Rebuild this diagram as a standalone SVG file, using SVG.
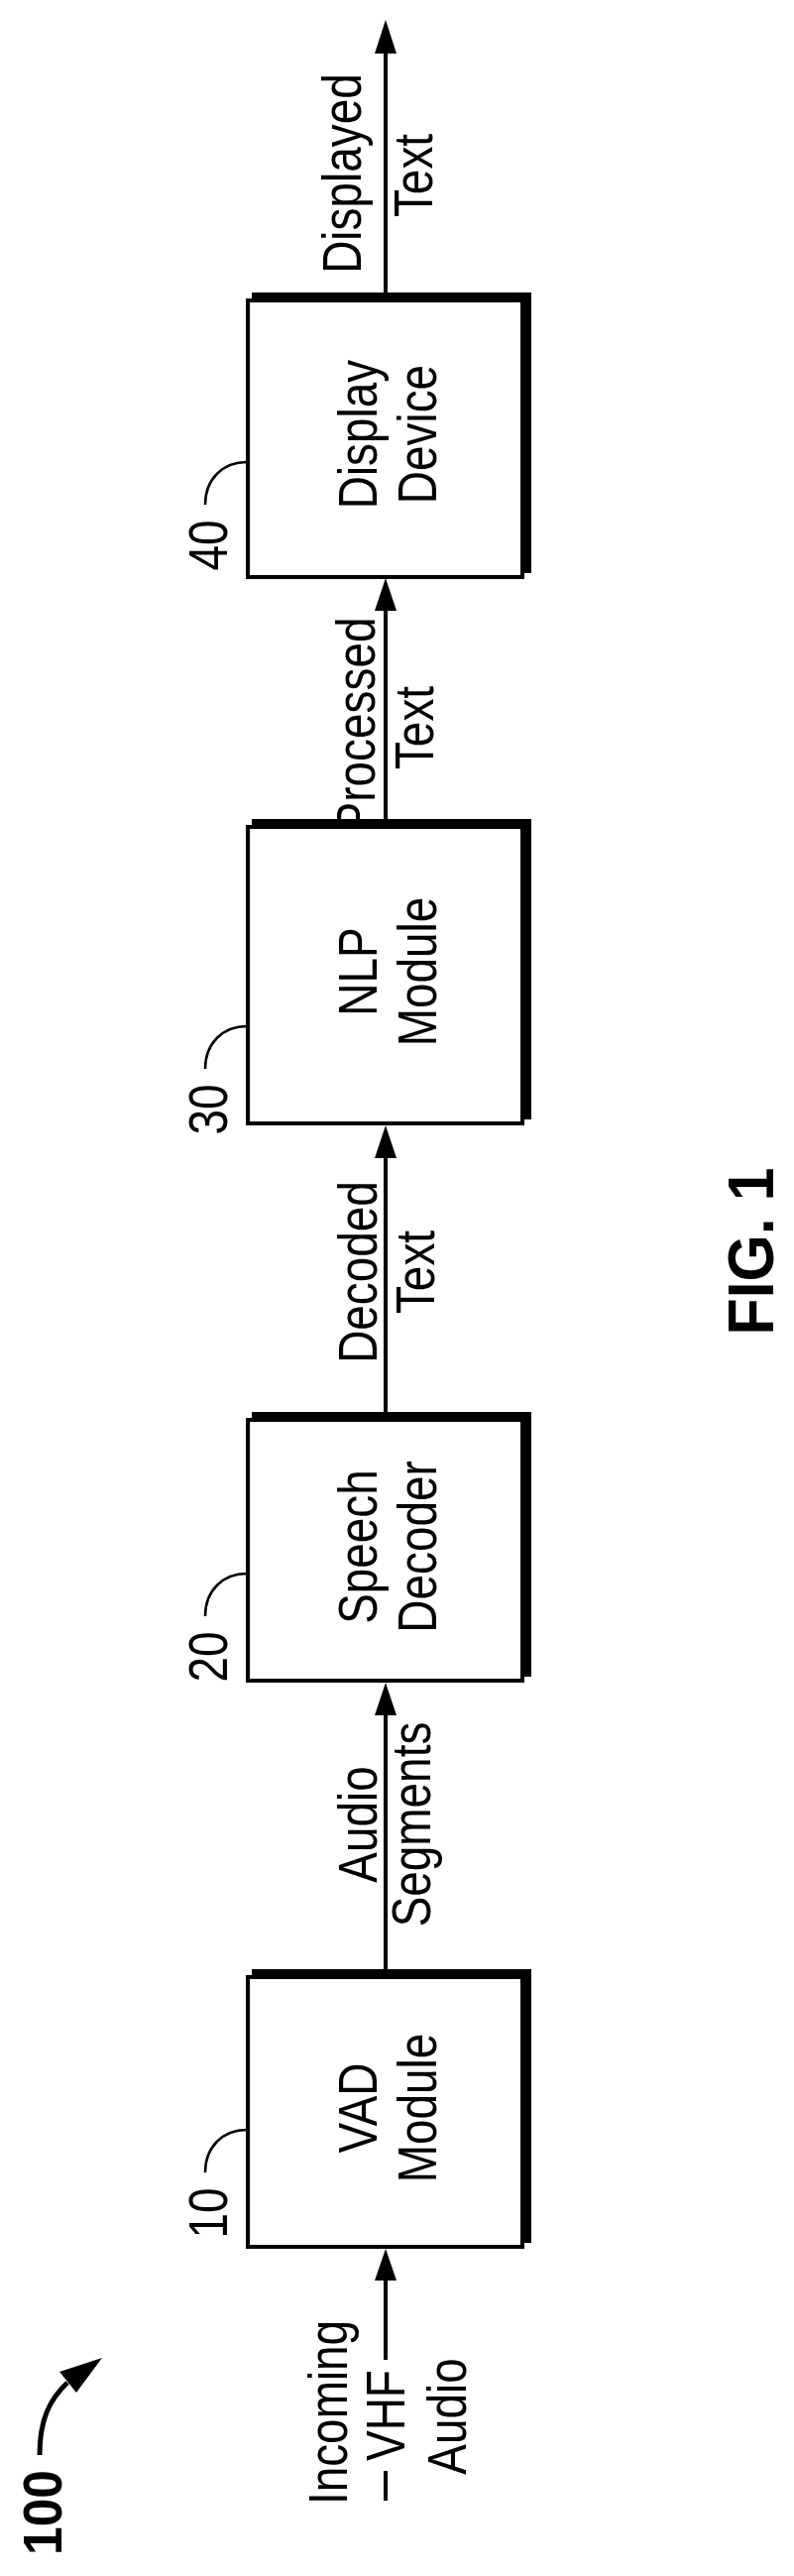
<svg xmlns="http://www.w3.org/2000/svg" width="801" height="2598" viewBox="0 0 801 2598">
<style>
text{font-family:"Liberation Sans",Arial,sans-serif;font-size:56px;fill:#000;text-anchor:middle}
.b{font-weight:bold}
.thin{fill:none;stroke:#000;stroke-width:4}
.thick{fill:none;stroke:#000;stroke-width:9}
.ln{fill:none;stroke:#000;stroke-width:4}
.ld{fill:none;stroke:#000;stroke-width:2.5}
.ah{fill:#000}
</style>
<g id="node-display">
<rect class="thin" x="250" y="303" width="277" height="279"/>
<path class="thick" d="M254 299.5H531.5V578"/>
<text transform="translate(380,438) rotate(-90) scale(0.82,1)">Display</text>
<text transform="translate(440,438) rotate(-90) scale(0.82,1)">Device</text>
<path class="ld" d="M249 466C225 466 207 483 207 509"/>
<text transform="translate(229,550) rotate(-90) scale(0.82,1)">40</text>
</g>
<g id="node-nlp">
<rect class="thin" x="250" y="834" width="277" height="299"/>
<path class="thick" d="M254 830.5H531.5V1129"/>
<text transform="translate(380,980) rotate(-90) scale(0.82,1)">NLP</text>
<text transform="translate(440,980) rotate(-90) scale(0.82,1)">Module</text>
<path class="ld" d="M249 1035C225 1035 207 1052 207 1078"/>
<text transform="translate(229,1119) rotate(-90) scale(0.82,1)">30</text>
</g>
<g id="node-speech">
<rect class="thin" x="250" y="1432" width="277" height="263"/>
<path class="thick" d="M254 1428.5H531.5V1691"/>
<text transform="translate(380,1560) rotate(-90) scale(0.82,1)">Speech</text>
<text transform="translate(440,1560) rotate(-90) scale(0.82,1)">Decoder</text>
<path class="ld" d="M249 1587C225 1587 207 1604 207 1630"/>
<text transform="translate(229,1671) rotate(-90) scale(0.82,1)">20</text>
</g>
<g id="node-vad">
<rect class="thin" x="250" y="1994" width="277" height="272"/>
<path class="thick" d="M254 1990.5H531.5V2262"/>
<text transform="translate(380,2126) rotate(-90) scale(0.82,1)">VAD</text>
<text transform="translate(440,2126) rotate(-90) scale(0.82,1)">Module</text>
<path class="ld" d="M249 2148C225 2148 207 2165 207 2191"/>
<text transform="translate(229,2232) rotate(-90) scale(0.82,1)">10</text>
</g>
<g id="connectors">
<line class="ln" x1="389" y1="296" x2="389" y2="50"/>
<polygon class="ah" points="389,20 378,54 400,54"/>
<text transform="translate(364,175) rotate(-90) scale(0.82,1)">Displayed</text>
<text transform="translate(436,177) rotate(-90) scale(0.82,1)">Text</text>
<line class="ln" x1="389" y1="827" x2="389" y2="612"/>
<polygon class="ah" points="389,583 378,616 400,616"/>
<text transform="translate(378,731) rotate(-90) scale(0.82,1)">Processed</text>
<text transform="translate(437,734) rotate(-90) scale(0.82,1)">Text</text>
<line class="ln" x1="389" y1="1425" x2="389" y2="1164"/>
<polygon class="ah" points="389,1135 378,1168 400,1168"/>
<text transform="translate(380,1283) rotate(-90) scale(0.82,1)">Decoded</text>
<text transform="translate(438,1283) rotate(-90) scale(0.82,1)">Text</text>
<line class="ln" x1="389" y1="1987" x2="389" y2="1726"/>
<polygon class="ah" points="389,1697 378,1730 400,1730"/>
<text transform="translate(380,1840) rotate(-90) scale(0.82,1)">Audio</text>
<text transform="translate(434,1840) rotate(-90) scale(0.82,1)">Segments</text>
<line class="ln" x1="389" y1="2380" x2="389" y2="2296"/>
<polygon class="ah" points="389,2268 378,2300 400,2300"/>
<line class="ln" x1="389" y1="2492" x2="389" y2="2522"/>
<text transform="translate(350,2433) rotate(-90) scale(0.82,1)">Incoming</text>
<text transform="translate(408,2436) rotate(-90) scale(0.82,1)">VHF</text>
<text transform="translate(470,2437) rotate(-90) scale(0.82,1)">Audio</text>
<path d="M40 2476C40 2440 50 2420 68 2403" fill="none" stroke="#000" stroke-width="5"/>
<polygon class="ah" points="103,2378 60,2392 77,2413"/>
</g>
<text class="b" transform="translate(62,2534) rotate(-90) scale(0.92,1)">100</text>
<text class="b" style="font-size:64px" transform="translate(780,1262) rotate(-90) scale(0.95,1)">FIG. 1</text>
</svg>
